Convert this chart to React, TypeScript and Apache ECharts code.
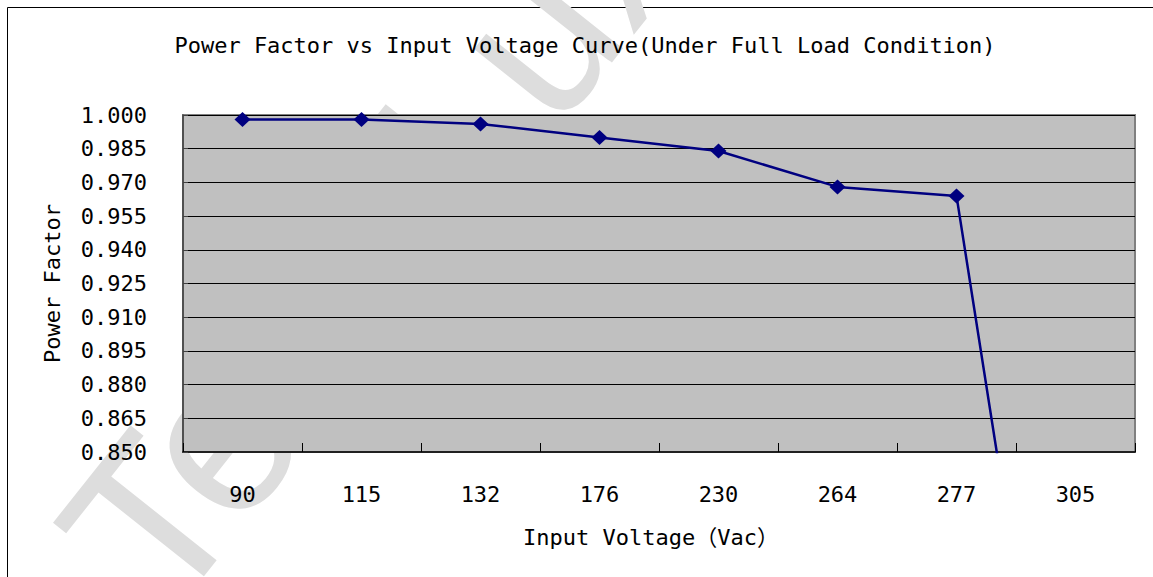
import React, { useEffect, useRef } from "react";
import * as echarts from "echarts";

const TITLE = "Power Factor vs Input Voltage Curve(Under Full Load Condition)";
const X_NAME = "Input Voltage（Vac）";
const Y_NAME = "Power Factor";
const WATERMARK = "TerraLux";

const categories = ["90", "115", "132", "176", "230", "264", "277", "305"];
const powerFactor = [0.998, 0.998, 0.996, 0.99, 0.984, 0.968, 0.964, 0.627];

// Y axis runs 0.850 .. 1.000 with a step of 0.015
const Y_MIN = 0.85;
const Y_MAX = 1.0;
const Y_STEP = 0.015;

const FONT = "'DejaVu Sans Mono', 'Noto Sans CJK SC', monospace";

export default function App() {
  const ref = useRef<HTMLDivElement>(null);

  useEffect(() => {
    if (!ref.current) return;
    const chart = echarts.init(ref.current, undefined, { renderer: "svg" });
    const option: any = {
      animation: false,
      backgroundColor: "#ffffff",
      title: {
        text: TITLE,
        left: 580,
        top: 29,
        textAlign: "center",
        textStyle: { fontFamily: FONT, fontSize: 22, fontWeight: "normal", color: "#000" },
      },
      grid: {
        left: 183,
        top: 115,
        width: 952,
        height: 337,
        show: true,
        backgroundColor: "#C0C0C0",
        borderColor: "#808080",
        borderWidth: 2,
      },
      xAxis: {
        type: "category",
        data: categories,
        boundaryGap: true,
        name: X_NAME,
        nameLocation: "middle",
        nameGap: 74,
        nameTextStyle: { fontFamily: FONT, fontSize: 22, color: "#000", padding: [0, 16, 0, 0] },
        axisLine: { show: true, lineStyle: { color: "#000", width: 1.5 } },
        axisTick: { show: true, inside: true, length: 9, lineStyle: { color: "#000", width: 1 } },
        axisLabel: { margin: 31, color: "#000", fontFamily: FONT, fontSize: 22 },
        splitLine: { show: false },
      },
      yAxis: {
        type: "value",
        min: 0,
        max: Y_MAX - Y_MIN,
        interval: Y_STEP,
        name: Y_NAME,
        nameLocation: "middle",
        nameGap: 120,
        nameTextStyle: { fontFamily: FONT, fontSize: 22, color: "#000" },
        axisLine: { show: true, lineStyle: { color: "#404040", width: 1.5 } },
        axisTick: { show: true, inside: true, length: 5, lineStyle: { color: "#404040" } },
        axisLabel: {
          margin: 36,
          color: "#000",
          fontFamily: FONT,
          fontSize: 22,
          formatter: (v: number) => (v + Y_MIN).toFixed(3),
        },
        splitLine: {
          show: true,
          showMinLine: false,
          showMaxLine: false,
          lineStyle: { color: "#000", width: 1 },
        },
      },
      series: [
        {
          type: "line",
          data: powerFactor.map((v) => v - Y_MIN),
          symbol: "diamond",
          symbolSize: [16, 15],
          itemStyle: { color: "#000080" },
          lineStyle: { color: "#000080", width: 2.5 },
          clip: true,
          z: 3,
        },
      ],
      graphic: [
        {
          type: "rect",
          silent: true,
          shape: { x: 7.5, y: 7.5, width: 1160, height: 600 },
          style: { fill: "none", stroke: "#000", lineWidth: 1 },
          z: -20,
        },
        {
          type: "text",
          silent: true,
          x: 195,
          y: 642,
          rotation: 0.9,
          z: -10,
          style: {
            text: WATERMARK,
            fontSize: 220,
            fontFamily: "'Liberation Sans', Arial, sans-serif",
            fill: "#DDDDDD",
            align: "left",
            verticalAlign: "bottom",
          },
        },
      ],
    };
    chart.setOption(option);
    return () => chart.dispose();
  }, []);

  return (
    <div
      ref={ref}
      style={{ position: "absolute", left: 0, top: 0, width: 1153, height: 577 }}
    />
  );
}
